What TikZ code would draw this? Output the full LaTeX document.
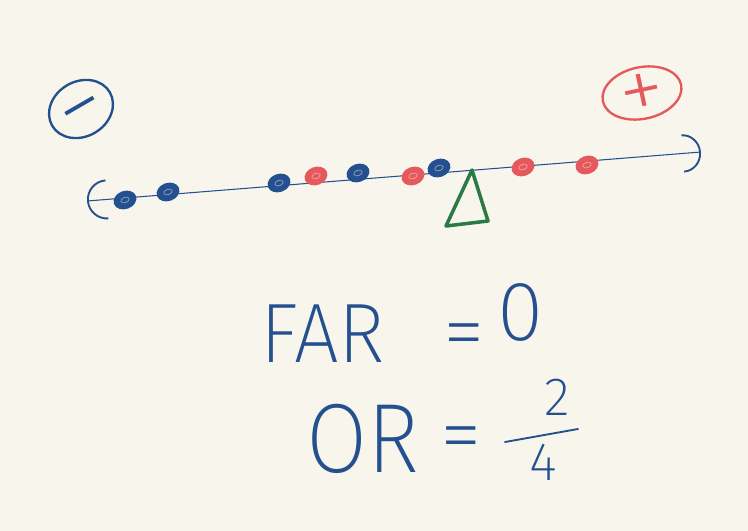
\documentclass[tikz,border=0pt]{standalone}
\usepackage{fontspec}
\newfontfamily\handfont{Fira Sans ExtraLight}
\usetikzlibrary{arrows.meta,shapes.geometric}
\definecolor{paper}{HTML}{F8F6EC}
\definecolor{ink}{HTML}{24508F}
\definecolor{redink}{HTML}{E5585B}
\definecolor{greenink}{HTML}{2A7A45}
\newcommand{\signtext}[1]{\makebox[0pt]{\smash{\raisebox{-0.3em}{#1}}}}

\begin{document}
\begin{tikzpicture}[
  x=0.03cm, y=-0.03cm,
  dot/.style={ellipse, draw, line width=1.2pt, minimum width=0.66cm, minimum height=0.5cm,
              inner sep=0pt, rotate=20,
              path picture={\draw[paper, opacity=0.45, line width=0.7pt]
                (path picture bounding box.center) ellipse (0.13cm and 0.08cm);}},
  negdot/.style={dot, draw=ink, fill=ink},
  posdot/.style={dot, draw=redink, fill=redink},
  sign/.style={ellipse, draw, line width=2pt, inner sep=0pt,
               font=\handfont\fontsize{80}{80}\selectfont},
  hand/.style={text=ink, inner sep=0pt, font=\handfont\fontsize{72}{72}\selectfont},
  small/.style={hand, font=\handfont\fontsize{46}{46}\selectfont}
]
  \fill[paper] (0,0) rectangle (748,531);
  \useasboundingbox (0,0) rectangle (748,531);

  \node[sign, draw=ink, text=ink, minimum width=2cm, minimum height=1.65cm, rotate=30] (minus) at (81,109) {\signtext{−}};
  \node[sign, draw=redink, text=redink, minimum width=2.4cm, minimum height=1.55cm, rotate=12] (plus) at (642,93) {\signtext{+}};

  \coordinate (axisL) at (87,201);
  \coordinate (axisR) at (701,152);
  \draw[ink, line width=0.9pt,
        {Arc Barb[length=0.6cm, width=1.2cm, line width=1.6pt]}-{Arc Barb[length=0.55cm, width=1.15cm, line width=1.6pt]}]
    (axisL) -- (axisR);

  \node[negdot] (n1) at (125,200) {};
  \node[negdot] (n2) at (168,192) {};
  \node[negdot] (n3) at (279,183) {};
  \node[posdot] (p1) at (316,176) {};
  \node[negdot] (n4) at (358,173) {};
  \node[posdot] (p2) at (413,176) {};
  \node[negdot] (n5) at (439,168) {};
  \node[posdot] (p3) at (523,167) {};
  \node[posdot] (p4) at (587,165) {};

  \draw[greenink, line width=3pt, line join=round] (472,170) -- (446,226) -- (488,221) -- cycle;

  \node[hand, anchor=base west] (far) at (260,362) {\scalebox{0.94}[1]{FAR}};
  \node[hand, anchor=center] (eq1) at (464,342) {=};
  \node[hand, anchor=base west] (zero) at (497,340) {0};

  \node[hand, anchor=base west, font=\handfont\fontsize{84}{84}\selectfont] (or) at (306,472) {\scalebox{0.9}[1]{OR}};
  \node[hand, anchor=center] (eq2) at (461,445) {=};
  \node[small] (num) at (557,397) {2};
  \node[small] (den) at (543,462) {4};
  \coordinate (barL) at (505,442);
  \coordinate (barR) at (578,429);
  \draw[ink, line width=1.6pt, line cap=round] (barL) -- (barR);
\end{tikzpicture}
\end{document}
